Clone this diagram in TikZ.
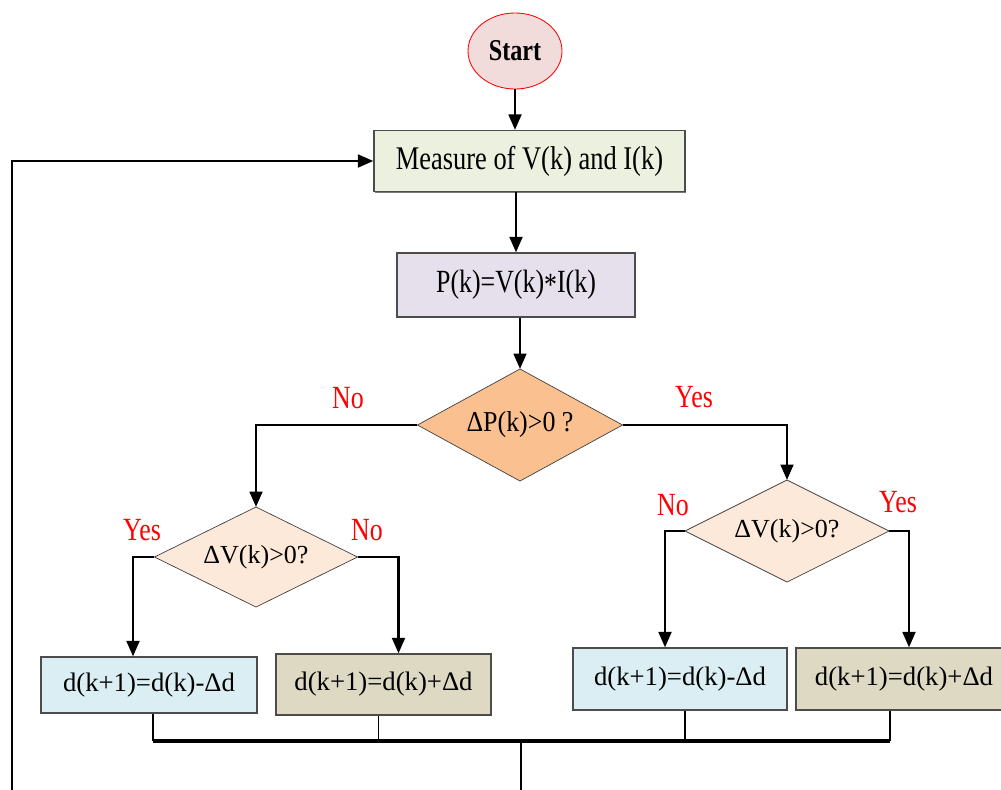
\documentclass[tikz,border=0pt]{standalone}
\usepackage{fontspec}
\setmainfont{Liberation Serif}
\newfontfamily\narrowfont[FakeStretch=0.8]{Liberation Serif}
\newfontfamily\midfont[FakeStretch=0.9]{Liberation Serif}
\usetikzlibrary{shapes.geometric,arrows.meta,calc,shadows}
\definecolor{startfill}{HTML}{F2DCDB}
\definecolor{measurefill}{HTML}{EBF1DE}
\definecolor{powerfill}{HTML}{E5E0EC}
\definecolor{dpfill}{HTML}{FAC090}
\definecolor{dvfill}{HTML}{FDE9D9}
\definecolor{minusfill}{HTML}{DAEEF3}
\definecolor{plusfill}{HTML}{DDD9C3}

\begin{document}
\begin{tikzpicture}[x=0.025cm,y=-0.025cm,
  box/.style={rectangle,draw=black!70,line width=0.8pt,inner sep=0pt,drop shadow={shadow xshift=1pt,shadow yshift=-1pt,fill=black!75,opacity=0.7}},
  test/.style={diamond,draw=black!75,line width=0.5pt,inner sep=0pt,outer sep=0pt},
  flow/.style={line width=2pt,-{Triangle[length=11pt,width=9pt]}},
  answer/.style={text=red,font=\narrowfont\fontsize{23}{26}\selectfont},
  stem/.style={line width=1pt}]
\clip (0,0) rectangle (1001,790);
\node[ellipse,draw=red,line width=0.6pt,fill=startfill,minimum width=2.35cm,minimum height=1.9cm,inner sep=0pt,font=\narrowfont\bfseries\fontsize{21.5}{24}\selectfont] (start) at (515,51) {Start};
\node[box,fill=measurefill,minimum width=7.775cm,minimum height=1.525cm,font=\narrowfont\fontsize{23.5}{26}\selectfont] (measure) at (529.5,161) {Measure of V(k) and I(k)};
\node[box,fill=powerfill,minimum width=5.95cm,minimum height=1.6cm,font=\narrowfont\fontsize{23}{26}\selectfont] (power) at (516,285) {P(k)=V(k)\raisebox{-0.2ex}{*}I(k)};
\node[test,fill=dpfill,aspect=1.83,minimum width=5.125cm,minimum height=2.8cm,font=\midfont\fontsize{20.5}{24}\selectfont] (dp) at (520,425) {ΔP(k)>0 ?};
\node[test,fill=dvfill,aspect=2.03,minimum width=5.075cm,minimum height=2.5cm,font=\fontsize{18.5}{22}\selectfont] (lv) at (256,557) {ΔV(k)>0?};
\node[test,fill=dvfill,aspect=2,minimum width=5.1cm,minimum height=2.55cm,font=\fontsize{18.5}{22}\selectfont] (rv) at (787,531) {ΔV(k)>0?};
\node[box,fill=minusfill,minimum width=5.4cm,minimum height=1.4cm,font=\fontsize{19}{22}\selectfont] (b1) at (149,685) {d(k+1)=d(k)-Δd};
\node[box,fill=plusfill,minimum width=5.375cm,minimum height=1.525cm,font=\fontsize{19}{22}\selectfont] (b2) at (383.5,684.5) {d(k+1)=d(k)+Δd};
\node[box,fill=minusfill,minimum width=5.35cm,minimum height=1.55cm,font=\fontsize{19}{22}\selectfont] (b3) at (680,679) {d(k+1)=d(k)-Δd};
\node[box,fill=plusfill,minimum width=5.4cm,minimum height=1.55cm,font=\fontsize{19}{22}\selectfont] (b4) at (904,679) {d(k+1)=d(k)+Δd};
\node[answer] (dpno) at (348,398) {No};
\node[answer] (dpyes) at (694,397) {Yes};
\node[answer] (lvyes) at (142,530) {Yes};
\node[answer] (lvno) at (367,530) {No};
\node[answer] (rvno) at (673,505) {No};
\node[answer] (rvyes) at (898,502) {Yes};
\coordinate (bus) at (521,741);
\coordinate (out) at (521,795);
\coordinate (back) at (12,795);
\coordinate (s1) at ($(b1.south)+(4,0)$);
\coordinate (s2) at ($(b2.south)+(-5,0)$);
\coordinate (s3) at ($(b3.south)+(5,0)$);
\coordinate (s4) at ($(b4.south)+(-14,0)$);
\draw[flow] (start.south) -- (start.south |- measure.north);
\draw[flow] (measure.south -| power.north) -- (power.north);
\draw[flow] (power.south -| dp.north) -- (dp.north);
\draw[flow] (dp.west) -| (lv.north);
\draw[flow] (dp.east) -| (rv.north);
\draw[flow] (lv.west) -| ($(b1.north)+(-16,0)$);
\draw[flow] (lv.east) -| ($(b2.north)+(15,0)$);
\draw[flow] (rv.west) -| ($(b3.north)+(-15,0)$);
\draw[flow] (rv.east) -| ($(b4.north)+(5,0)$);
\draw[stem] (s1) -- (s1 |- bus);
\draw[stem] (s2) -- (s2 |- bus);
\draw[stem] (s3) -- (s3 |- bus);
\draw[stem] (s4) -- (s4 |- bus);
\draw[line width=2.6pt] (s1 |- bus) -- (s4 |- bus);
\draw[line width=1.5pt] (bus) -- (out);
\draw[flow] (back) |- (measure.west);
\end{tikzpicture}
\end{document}
